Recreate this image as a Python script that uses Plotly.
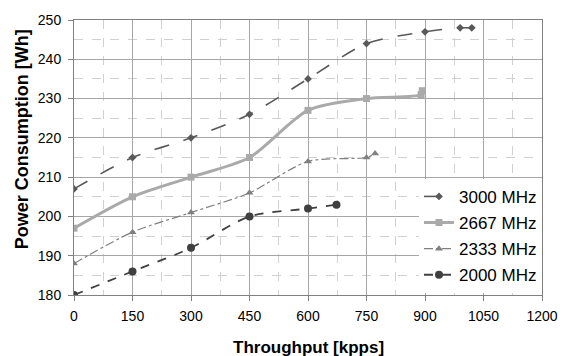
import plotly.graph_objects as go

x3000 = [0, 150, 300, 450, 600, 750, 900, 990, 1020]
y3000 = [207, 215, 220, 226, 235, 244, 247, 248, 248]
x2667 = [0, 150, 300, 450, 600, 750, 890, 893]
y2667 = [197, 205, 210, 215, 227, 230, 231, 232]
x2333 = [0, 150, 300, 450, 600, 750, 772]
y2333 = [188, 196, 201, 206, 214, 215, 216]
x2000 = [0, 150, 300, 450, 600, 673]
y2000 = [180, 186, 192, 200, 202, 203]

names = ["3000 MHz", "2667 MHz", "2333 MHz", "2000 MHz"]
xticks = [0, 150, 300, 450, 600, 750, 900, 1050, 1200]
yticks = [180, 190, 200, 210, 220, 230, 240, 250]
xtitle = "Throughput [kpps]"
ytitle = "Power Consumption [Wh]"

FONT = "Liberation Sans, Arial, sans-serif"
fig = go.Figure()
fig.add_trace(go.Scatter(x=x3000, y=y3000, name=names[0], mode="lines+markers", legendgroup="a",
                         line=dict(color="#595959", width=1.6, dash="longdash", shape="spline", smoothing=0.8),
                         marker=dict(symbol="diamond", size=6, color="#595959")))
fig.add_trace(go.Scatter(x=x2667, y=y2667, name=names[1], mode="lines+markers", legendgroup="b",
                         line=dict(color="#AAAAAA", width=3, dash="solid", shape="spline", smoothing=0.8),
                         marker=dict(symbol="square", size=7, color="#AAAAAA")))
fig.add_trace(go.Scatter(x=x2333, y=y2333, name=names[2], mode="lines+markers", legendgroup="c",
                         line=dict(color="#7F7F7F", width=1.2, dash="dashdot", shape="spline", smoothing=0.8),
                         marker=dict(symbol="triangle-up", size=7, color="#7F7F7F")))
fig.add_trace(go.Scatter(x=x2000, y=y2000, name=names[3], mode="lines+markers", legendgroup="d",
                         line=dict(color="#404040", width=1.8, dash="dash", shape="spline", smoothing=0.8),
                         marker=dict(symbol="circle", size=8, color="#404040")))

fig.update_layout(
    width=570, height=356,
    margin=dict(l=74, r=16, t=16, b=61),
    plot_bgcolor="white", paper_bgcolor="white",
    font=dict(family=FONT, size=13, color="black"),
    legend=dict(x=1, xanchor="right", y=0.215, yanchor="middle",
                bgcolor="white", font=dict(family=FONT, size=17, color="black"),
                tracegroupgap=1, itemwidth=30),
    annotations=[
        dict(text="<b>" + xtitle + "</b>", xref="paper", yref="paper", x=0.5, y=-0.19,
             xanchor="center", yanchor="middle", showarrow=False, font=dict(family=FONT, size=17)),
        dict(text="<b>" + ytitle + "</b>", xref="paper", yref="paper", x=-0.112, y=0.565,
             xanchor="center", yanchor="middle", textangle=-90, showarrow=False, font=dict(family=FONT, size=18)),
    ],
)
fig.update_xaxes(
    range=[0, 1200], tickvals=xticks, ticktext=[str(v) for v in xticks],
    showgrid=True, gridcolor="#A6A6A6", gridwidth=1,
    minor=dict(dtick=75, tick0=0, showgrid=True, gridcolor="#D0D0D0", griddash="dash", gridwidth=1),
    showline=True, linecolor="#808080", linewidth=1, mirror=True,
    ticks="outside", ticklen=5, tickcolor="#808080",
    zeroline=False, ticklabelstandoff=3,
    tickfont=dict(family=FONT, size=14),
)
fig.update_yaxes(
    range=[180, 250], tickvals=yticks, ticktext=[str(v) for v in yticks],
    showgrid=True, gridcolor="#A6A6A6", gridwidth=1,
    minor=dict(dtick=5, tick0=180, showgrid=True, gridcolor="#D0D0D0", griddash="dash", gridwidth=1),
    showline=True, linecolor="#808080", linewidth=1, mirror=True,
    ticks="outside", ticklen=5, tickcolor="#808080",
    zeroline=False, ticklabelstandoff=4,
    tickfont=dict(family=FONT, size=14),
)
fig.write_html("out.html")
